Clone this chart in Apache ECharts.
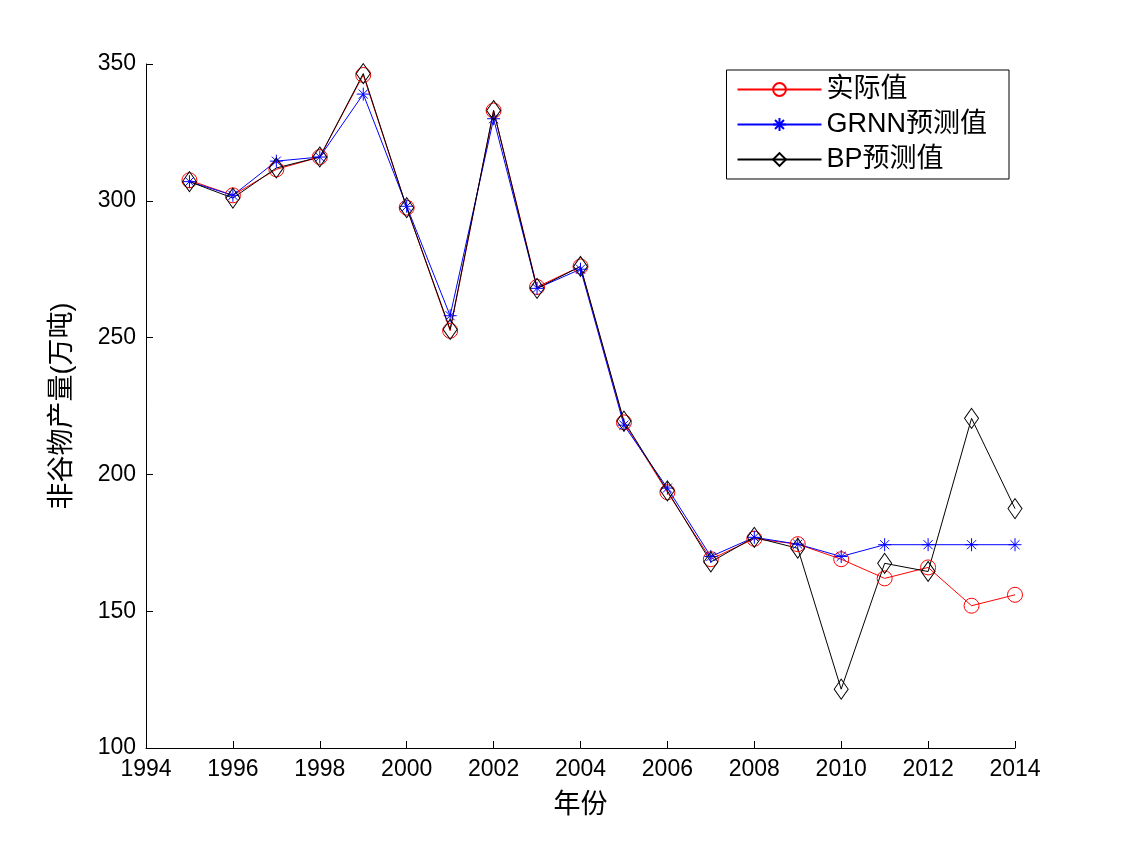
<!DOCTYPE html>
<html>
<head>
<meta charset="utf-8">
<script src="https://cdn.jsdelivr.net/npm/echarts@6/dist/echarts.min.js"></script>
</head>
<body style="margin:0;background:#fff">
<div id="main" style="width:1122px;height:842px;"></div>
<script>
var years = [1995,1996,1997,1998,1999,2000,2001,2002,2003,2004,2005,2006,2007,2008,2009,2010,2011,2012,2013,2014];
var actual = [307.5,302,311.5,316,346,297.5,252.5,333,268.5,276,219,193.5,169,176.5,174.5,169,162,166,152,156];
var grnn = [307,302,314.5,316,339,298,258,330,268,275,218,195,170,177,174.5,170,174.3,174.3,174.3,174.3];
var bp = [307,301,312,316,346.5,297.5,253,333,268,276,219.5,194,168,177,173,121.5,167.5,164.5,220.5,187.5];

function pairs(v) { return years.map(function (y, i) { return [y, v[i]]; }); }

var chart = echarts.init(document.getElementById('main'));
var font = 'Arial, "Liberation Sans", "Noto Sans CJK SC"';
function axisCommon() {
    return {
        axisLine: {show: true, lineStyle: {color: '#000'}},
        axisTick: {show: true, inside: true, length: 7, lineStyle: {color: '#000'}},
        axisLabel: {color: '#000', fontSize: 23, fontFamily: font, margin: 10,
                    formatter: function (v) { return String(v); }},
        splitLine: {show: false}
    };
}
chart.setOption({
    animation: false,
    grid: {left: 146, right: 107, top: 64, bottom: 94},
    legend: {
        orient: 'vertical', right: 113, top: 70,
        padding: [6, 22, 6, 10], itemGap: 8,
        borderColor: '#000', borderWidth: 1, backgroundColor: '#fff',
        itemWidth: 84, itemHeight: 16,
        textStyle: {fontSize: 27, color: '#000', fontFamily: font},
        data: ['实际值', 'GRNN预测值', 'BP预测值']
    },
    xAxis: Object.assign(axisCommon(), {
        type: 'value', min: 1994, max: 2014, interval: 2,
        name: '年份', nameLocation: 'middle', nameGap: 44,
        nameTextStyle: {fontSize: 27, color: '#000', fontFamily: font}
    }),
    yAxis: Object.assign(axisCommon(), {
        type: 'value', min: 100, max: 350, interval: 50,
        name: '非谷物产量(万吨)', nameLocation: 'middle', nameGap: 70,
        nameTextStyle: {fontSize: 27, color: '#000', fontFamily: font}
    }),
    series: [
        {name: '实际值', type: 'line', data: pairs(actual), symbol: 'circle', symbolSize: 15,
         showAllSymbol: true, color: '#ff0000',
         lineStyle: {width: 1, color: '#ff0000'},
         itemStyle: {color: 'rgba(0,0,0,0)', borderColor: '#ff0000', borderWidth: 1}},
        {name: 'GRNN预测值', type: 'line', data: pairs(grnn),
         symbol: 'path://M0,-10L0,10M-10,0L10,0M-7,-7L7,7M-7,7L7,-7', symbolSize: 13,
         showAllSymbol: true, color: '#0000ff',
         lineStyle: {width: 1, color: '#0000ff'},
         itemStyle: {color: 'rgba(0,0,0,0)', borderColor: '#0000ff', borderWidth: 1}},
        {name: 'BP预测值', type: 'line', data: pairs(bp),
         symbol: 'path://M0,-10L7,0L0,10L-7,0Z', symbolSize: [14, 20],
         showAllSymbol: true, color: '#000',
         lineStyle: {width: 1, color: '#000'},
         itemStyle: {color: 'rgba(0,0,0,0)', borderColor: '#000', borderWidth: 1}}
    ]
});
</script>
</body>
</html>
